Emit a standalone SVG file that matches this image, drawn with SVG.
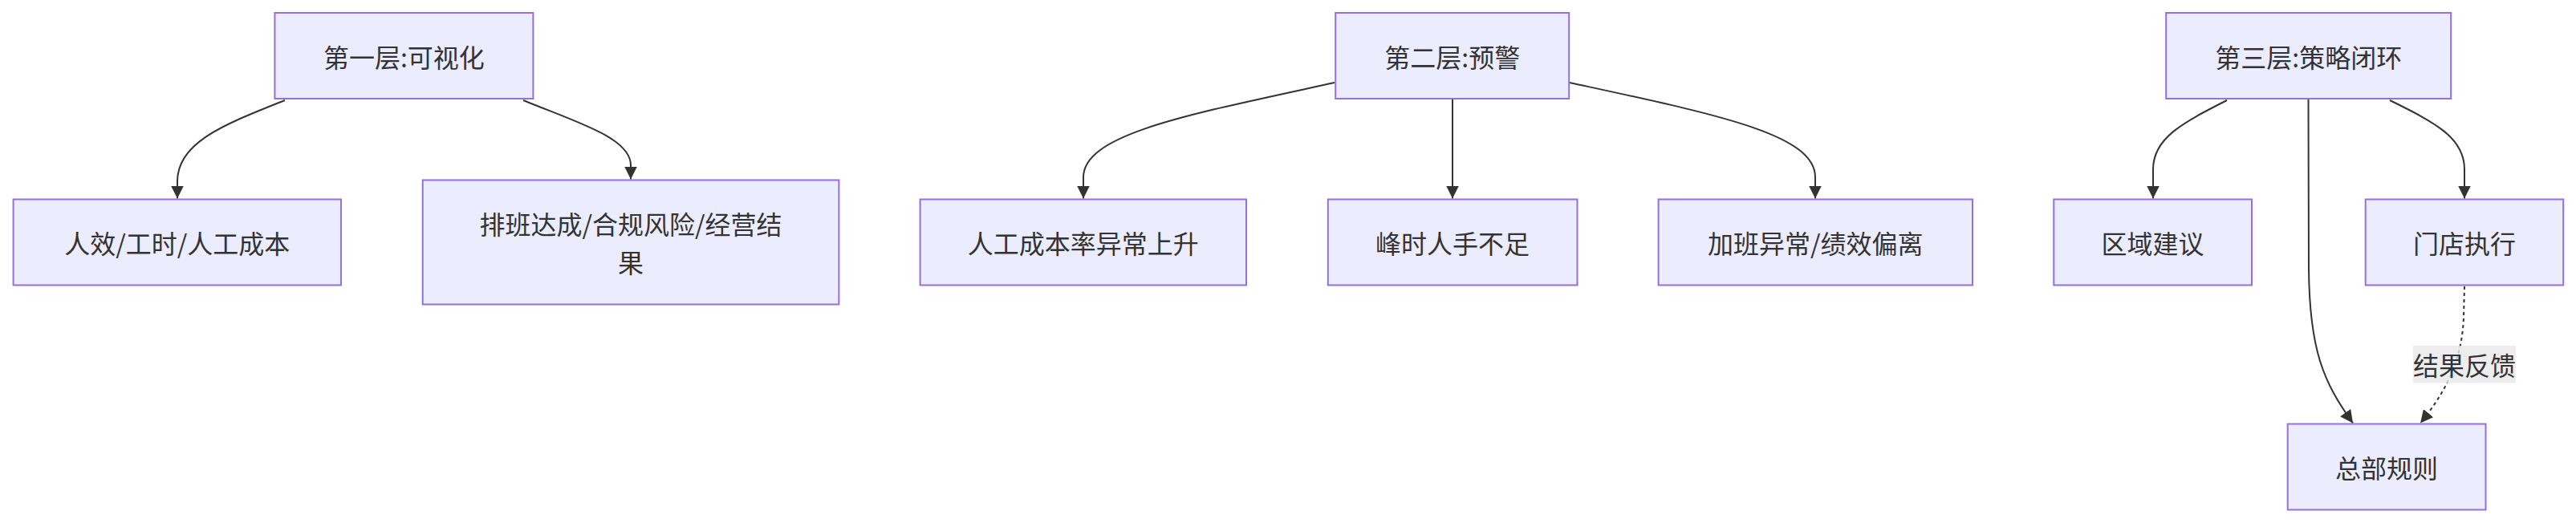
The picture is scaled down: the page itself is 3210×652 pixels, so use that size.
<svg xmlns="http://www.w3.org/2000/svg" width="3210" height="652" viewBox="0 0 3210 652">
<style>
.node rect{fill:#ECECFF;stroke:#9370DB;stroke-width:2}
.node text,.lbl text{font-family:"Noto Sans CJK SC","Noto Sans",sans-serif;font-size:32px;fill:#333333;text-anchor:middle;dominant-baseline:central}
.edge{fill:none;stroke:#333333;stroke-width:2}
.dotted{stroke-dasharray:4 4}
.lbl rect{fill:#e8e8e8;fill-opacity:0.8}
</style>
<defs>
<marker id="arrow" viewBox="0 0 16 16" refX="16" refY="8" markerWidth="16" markerHeight="16" markerUnits="userSpaceOnUse" orient="auto">
<path d="M0,0 L16,8 L0,16 z" fill="#333333"/>
</marker>
</defs>
<g id="edges">
<path class="edge" d="M355,125 C280,155 221,177 221,226 L221,247.5" marker-end="url(#arrow)"/>
<path class="edge" d="M652,125 C720,153 786,172 786,206 L786,223.5" marker-end="url(#arrow)"/>
<path class="edge" d="M1663,103 C1480,143 1350,167 1350,221 L1350,247.5" marker-end="url(#arrow)"/>
<path class="edge" d="M1810,124 L1810,247.5" marker-end="url(#arrow)"/>
<path class="edge" d="M1956,103 C2140,143 2262,167 2262,221 L2262,247.5" marker-end="url(#arrow)"/>
<path class="edge" d="M2775,125 C2720,153 2683,172 2683,211 L2683,247.5" marker-end="url(#arrow)"/>
<path class="edge" d="M2978,125 C3035,153 3071,172 3071,211 L3071,247.5" marker-end="url(#arrow)"/>
<path class="edge" d="M2876.5,124 L2877,336 C2878,436 2895,476 2932,527.5" marker-end="url(#arrow)"/>
<path class="edge dotted" d="M3071,357 L3070,396 C3068,446 3050,486 3016,527.5" marker-end="url(#arrow)"/>
</g>
<g id="edge-label" class="lbl">
<rect x="3007" y="431" width="128" height="46.5"/>
<text x="3071" y="454">结果反馈</text>
</g>
<g id="nodeA" class="node">
<rect x="342.4" y="16" width="322" height="107"/>
<text x="503.4" y="69.5">第一层:可视化</text>
</g>
<g id="nodeA1" class="node">
<rect x="16.6" y="248.5" width="408.4" height="107"/>
<text x="220.8" y="302">人效/工时/人工成本</text>
</g>
<g id="nodeA2" class="node">
<rect x="526.7" y="224.5" width="518.7" height="155"/>
<text x="786" y="278">排班达成/合规风险/经营结</text>
<text x="786" y="326">果</text>
</g>
<g id="nodeB" class="node">
<rect x="1664.2" y="16" width="291" height="107"/>
<text x="1809.7" y="69.5">第二层:预警</text>
</g>
<g id="nodeB1" class="node">
<rect x="1146.6" y="248.5" width="406.4" height="107"/>
<text x="1349.8" y="302">人工成本率异常上升</text>
</g>
<g id="nodeB2" class="node">
<rect x="1654.8" y="248.5" width="310.7" height="107"/>
<text x="1810.1" y="302">峰时人手不足</text>
</g>
<g id="nodeB3" class="node">
<rect x="2066.6" y="248.5" width="391.4" height="107"/>
<text x="2262.3" y="302">加班异常/绩效偏离</text>
</g>
<g id="nodeC" class="node">
<rect x="2699.2" y="16" width="355" height="107"/>
<text x="2876.7" y="69.5">第三层:策略闭环</text>
</g>
<g id="nodeC1" class="node">
<rect x="2559.3" y="248.5" width="246.7" height="107"/>
<text x="2682.6" y="302">区域建议</text>
</g>
<g id="nodeC2" class="node">
<rect x="2947.7" y="248.5" width="246.5" height="107"/>
<text x="3071" y="302">门店执行</text>
</g>
<g id="nodeC3" class="node">
<rect x="2850.7" y="528.5" width="246.8" height="107"/>
<text x="2974.1" y="582">总部规则</text>
</g>
</svg>
